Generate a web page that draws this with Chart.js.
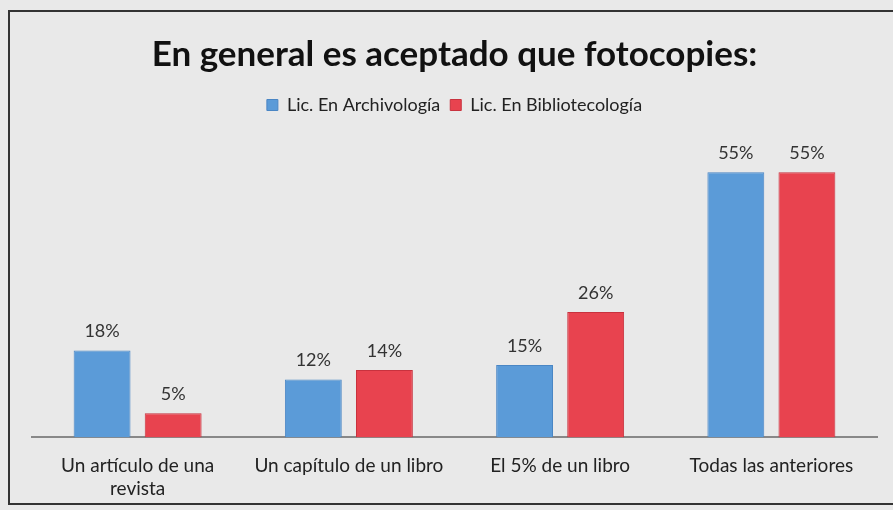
<!DOCTYPE html>
<html>
<head>
<meta charset="utf-8">
<script src="https://cdn.jsdelivr.net/npm/chart.js@4.4.1/dist/chart.umd.min.js"></script>
<style>
  html, body { margin: 0; padding: 0; background: #e9e9e9; }
  #wrap { position: absolute; left: 8px; top: 10px; width: 893px; height: 495px; border: 2px solid #333; border-right: none; box-sizing: border-box; }
  #box { position: absolute; left: 0; top: 0; width: 893px; height: 510px; }
</style>
</head>
<body>
<div id="wrap"></div>
<div id="box"><canvas id="chart" width="893" height="510"></canvas></div>
<script>
var categories = [['Un artículo de una', 'revista'], 'Un capítulo de un libro', 'El 5% de un libro', 'Todas las anteriores'];
var archivologia = [18, 12, 15, 55];
var bibliotecologia = [5, 14, 26, 55];
var seriesNames = ['Lic. En Archivología', 'Lic. En Bibliotecología'];

var fontFamily = 'Lato, "Open Sans", sans-serif';

var valueLabels = {
    id: 'valueLabels',
    afterDatasetsDraw: function (chart) {
        var ctx = chart.ctx;
        ctx.save();
        ctx.font = '18px ' + fontFamily;
        ctx.fillStyle = '#333';
        ctx.textAlign = 'center';
        ctx.textBaseline = 'bottom';
        chart.data.datasets.forEach(function (ds, i) {
            chart.getDatasetMeta(i).data.forEach(function (bar, j) {
                ctx.fillText(ds.data[j] + '%', bar.x, bar.y - 10);
            });
        });
        ctx.restore();
    }
};

new Chart(document.getElementById('chart'), {
    type: 'bar',
    data: {
        labels: categories,
        datasets: [
            { label: seriesNames[0], data: archivologia, backgroundColor: '#5b9bd8', borderColor: '#4a86c4', borderWidth: 1 },
            { label: seriesNames[1], data: bibliotecologia, backgroundColor: '#e8434f', borderColor: '#c8323e', borderWidth: 1 }
        ]
    },
    options: {
        responsive: false,
        animation: false,
        layout: { padding: { left: 32, right: 16, top: 20, bottom: 1 } },
        categoryPercentage: 0.673,
        barPercentage: 0.8,
        plugins: {
            title: {
                display: true,
                text: 'En general es aceptado que fotocopies:',
                color: '#111',
                font: { family: fontFamily, size: 35, weight: 'bold' },
                padding: { top: 14, bottom: 10 }
            },
            legend: {
                labels: {
                    boxWidth: 11, boxHeight: 11, color: '#222',
                    font: { family: fontFamily, size: 18 }
                }
            },
            tooltip: { enabled: false }
        },
        scales: {
            x: {
                grid: { display: false },
                border: { color: '#888', width: 2 },
                ticks: { color: '#222', font: { family: fontFamily, size: 19 }, padding: 9 }
            },
            y: { display: false, min: 0, max: 65 }
        }
    },
    plugins: [valueLabels]
});
</script>
</body>
</html>
